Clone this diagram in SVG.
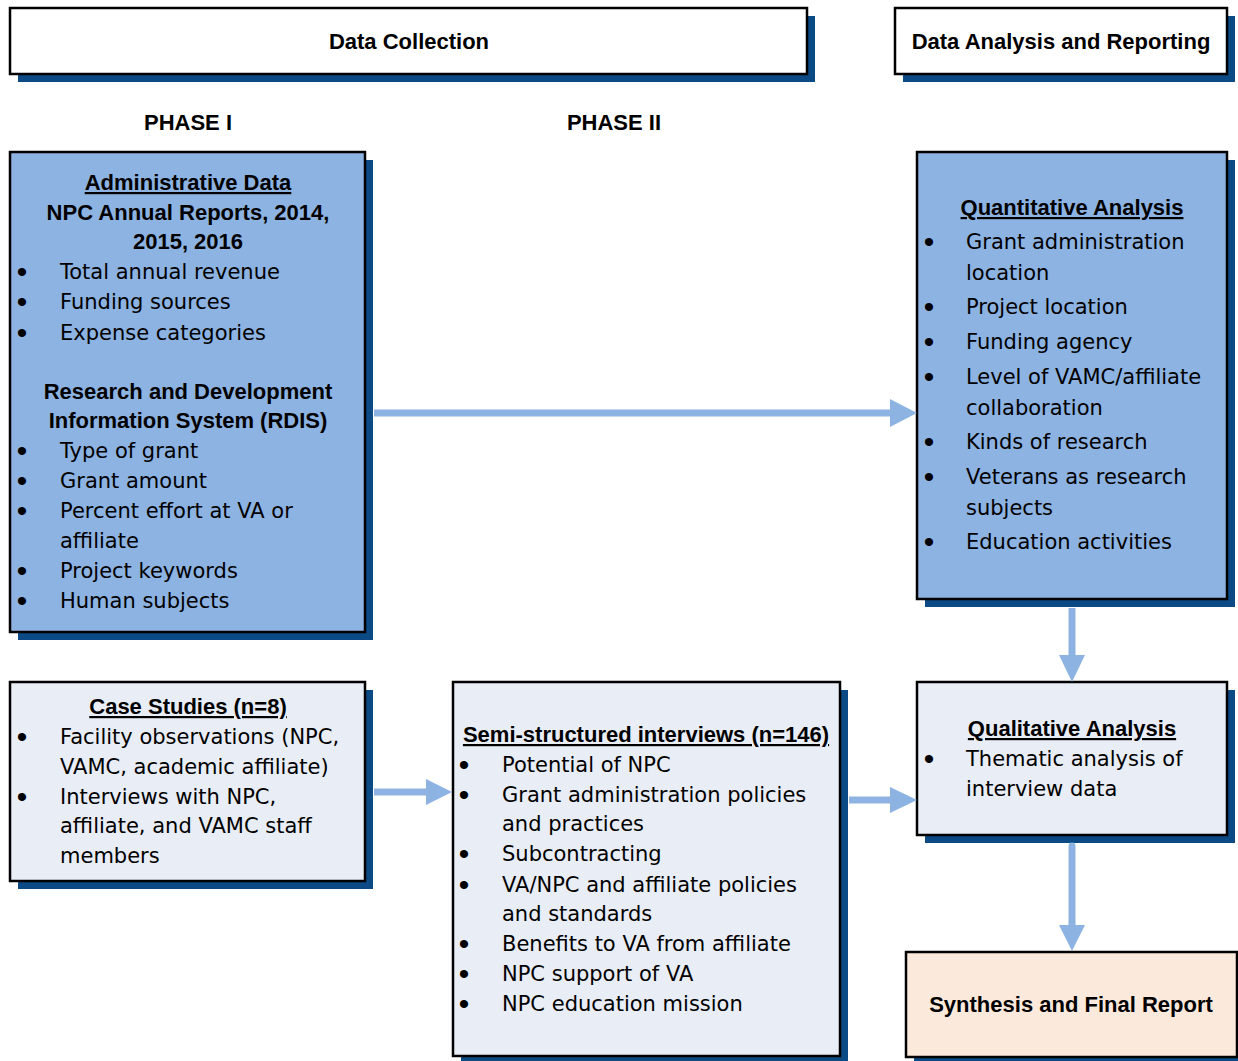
<svg xmlns="http://www.w3.org/2000/svg" width="1238" height="1061" viewBox="0 0 1238 1061">
<style>
.sh{fill:#0b4a84}
.box{stroke:#000;stroke-width:2.5}
.w{fill:#fff}
.blue{fill:#8db3e2}
.lite{fill:#e9edf5}
.peach{fill:#fbe9db}
.b{font-family:"Liberation Sans",Arial,sans-serif;font-weight:bold;font-size:22px;fill:#000}
.t{font-family:"DejaVu Sans",sans-serif;font-size:21px;fill:#000}
.bu{font-family:"Liberation Sans",Arial,sans-serif;font-size:30px;fill:#000;text-anchor:middle}
.c{text-anchor:middle}
.u{text-decoration:underline}
.ln{stroke:#8db3e2;stroke-width:7;fill:none}
.hd{fill:#8db3e2}
</style>
<rect width="1238" height="1061" fill="#fff"/>

<g id="data-collection">
<rect class="sh" x="18" y="16" width="797" height="66"/>
<rect class="box w" x="10" y="8" width="797" height="66"/>
<text class="b c" x="409" y="49">Data Collection</text>
</g>

<g id="data-analysis-reporting">
<rect class="sh" x="903" y="16" width="332" height="66"/>
<rect class="box w" x="895" y="8" width="332" height="66"/>
<text class="b c" x="1061" y="49">Data Analysis and Reporting</text>
</g>

<g id="phase-1"><text class="b c" x="188" y="130">PHASE I</text></g>
<g id="phase-2"><text class="b c" x="614" y="130">PHASE II</text></g>

<g id="administrative-data">
<rect class="sh" x="18" y="160" width="355" height="480"/>
<rect class="box blue" x="10" y="152" width="355" height="480"/>
<text class="b c u" x="188" y="190">Administrative Data</text>
<text class="b c" x="188" y="220">NPC Annual Reports, 2014,</text>
<text class="b c" x="188" y="249">2015, 2016</text>
<text class="bu" x="22" y="282">•</text><text class="t" x="60" y="279">Total annual revenue</text>
<text class="bu" x="22" y="312">•</text><text class="t" x="60" y="309">Funding sources</text>
<text class="bu" x="22" y="343">•</text><text class="t" x="60" y="340">Expense categories</text>
<text class="b c" x="188" y="399">Research and Development</text>
<text class="b c" x="188" y="428">Information System (RDIS)</text>
<text class="bu" x="22" y="461">•</text><text class="t" x="60" y="458">Type of grant</text>
<text class="bu" x="22" y="491">•</text><text class="t" x="60" y="488">Grant amount</text>
<text class="bu" x="22" y="521">•</text><text class="t" x="60" y="518">Percent effort at VA or</text>
<text class="t" x="60" y="548">affiliate</text>
<text class="bu" x="22" y="581">•</text><text class="t" x="60" y="578">Project keywords</text>
<text class="bu" x="22" y="611">•</text><text class="t" x="60" y="608">Human subjects</text>
</g>

<g id="quantitative-analysis">
<rect class="sh" x="925" y="160" width="310" height="447"/>
<rect class="box blue" x="917" y="152" width="310" height="447"/>
<text class="b c u" x="1072" y="215">Quantitative Analysis</text>
<text class="bu" x="929" y="252">•</text><text class="t" x="966" y="249">Grant administration</text>
<text class="t" x="966" y="280">location</text>
<text class="bu" x="929" y="317">•</text><text class="t" x="966" y="314">Project location</text>
<text class="bu" x="929" y="352">•</text><text class="t" x="966" y="349">Funding agency</text>
<text class="bu" x="929" y="387">•</text><text class="t" x="966" y="384">Level of VAMC/affiliate</text>
<text class="t" x="966" y="415">collaboration</text>
<text class="bu" x="929" y="452">•</text><text class="t" x="966" y="449">Kinds of research</text>
<text class="bu" x="929" y="487">•</text><text class="t" x="966" y="484">Veterans as research</text>
<text class="t" x="966" y="515">subjects</text>
<text class="bu" x="929" y="552">•</text><text class="t" x="966" y="549">Education activities</text>
</g>

<g id="case-studies">
<rect class="sh" x="18" y="690" width="355" height="199"/>
<rect class="box lite" x="10" y="682" width="355" height="199"/>
<text class="b c u" x="188" y="714">Case Studies (n=8)</text>
<text class="bu" x="22" y="747">•</text><text class="t" x="60" y="744">Facility observations (NPC,</text>
<text class="t" x="60" y="774">VAMC, academic affiliate)</text>
<text class="bu" x="22" y="807">•</text><text class="t" x="60" y="804">Interviews with NPC,</text>
<text class="t" x="60" y="833">affiliate, and VAMC staff</text>
<text class="t" x="60" y="863">members</text>
</g>

<g id="semi-structured-interviews">
<rect class="sh" x="461" y="690" width="387" height="374"/>
<rect class="box lite" x="453" y="682" width="387" height="374"/>
<text class="b c u" x="646" y="742">Semi-structured interviews (n=146)</text>
<text class="bu" x="464" y="775">•</text><text class="t" x="502" y="772">Potential of NPC</text>
<text class="bu" x="464" y="805">•</text><text class="t" x="502" y="802">Grant administration policies</text>
<text class="t" x="502" y="831">and practices</text>
<text class="bu" x="464" y="864">•</text><text class="t" x="502" y="861">Subcontracting</text>
<text class="bu" x="464" y="895">•</text><text class="t" x="502" y="892">VA/NPC and affiliate policies</text>
<text class="t" x="502" y="921">and standards</text>
<text class="bu" x="464" y="954">•</text><text class="t" x="502" y="951">Benefits to VA from affiliate</text>
<text class="bu" x="464" y="984">•</text><text class="t" x="502" y="981">NPC support of VA</text>
<text class="bu" x="464" y="1014">•</text><text class="t" x="502" y="1011">NPC education mission</text>
</g>

<g id="qualitative-analysis">
<rect class="sh" x="925" y="690" width="310" height="153"/>
<rect class="box lite" x="917" y="682" width="310" height="153"/>
<text class="b c u" x="1072" y="736">Qualitative Analysis</text>
<text class="bu" x="929" y="769">•</text><text class="t" x="966" y="766">Thematic analysis of</text>
<text class="t" x="966" y="796">interview data</text>
</g>

<g id="synthesis-final-report">
<rect class="sh" x="914" y="960" width="331" height="105"/>
<rect class="box peach" x="906" y="952" width="331" height="105"/>
<text class="b c" x="1071" y="1012">Synthesis and Final Report</text>
</g>

<g id="connectors">
<line class="ln" x1="374" y1="413" x2="892" y2="413"/>
<polygon class="hd" points="890,399 917,413 890,427"/>
<line class="ln" x1="1072" y1="608" x2="1072" y2="657"/>
<polygon class="hd" points="1059,655 1072,682 1085,655"/>
<line class="ln" x1="374" y1="792" x2="429" y2="792"/>
<polygon class="hd" points="426,779 452,792 426,805"/>
<line class="ln" x1="849" y1="800" x2="892" y2="800"/>
<polygon class="hd" points="890,787 917,800 890,813"/>
<line class="ln" x1="1072" y1="846" x2="1072" y2="928" stroke-linecap="round"/>
<polygon class="hd" points="1059,925 1072,951 1085,925"/>
</g>
</svg>
